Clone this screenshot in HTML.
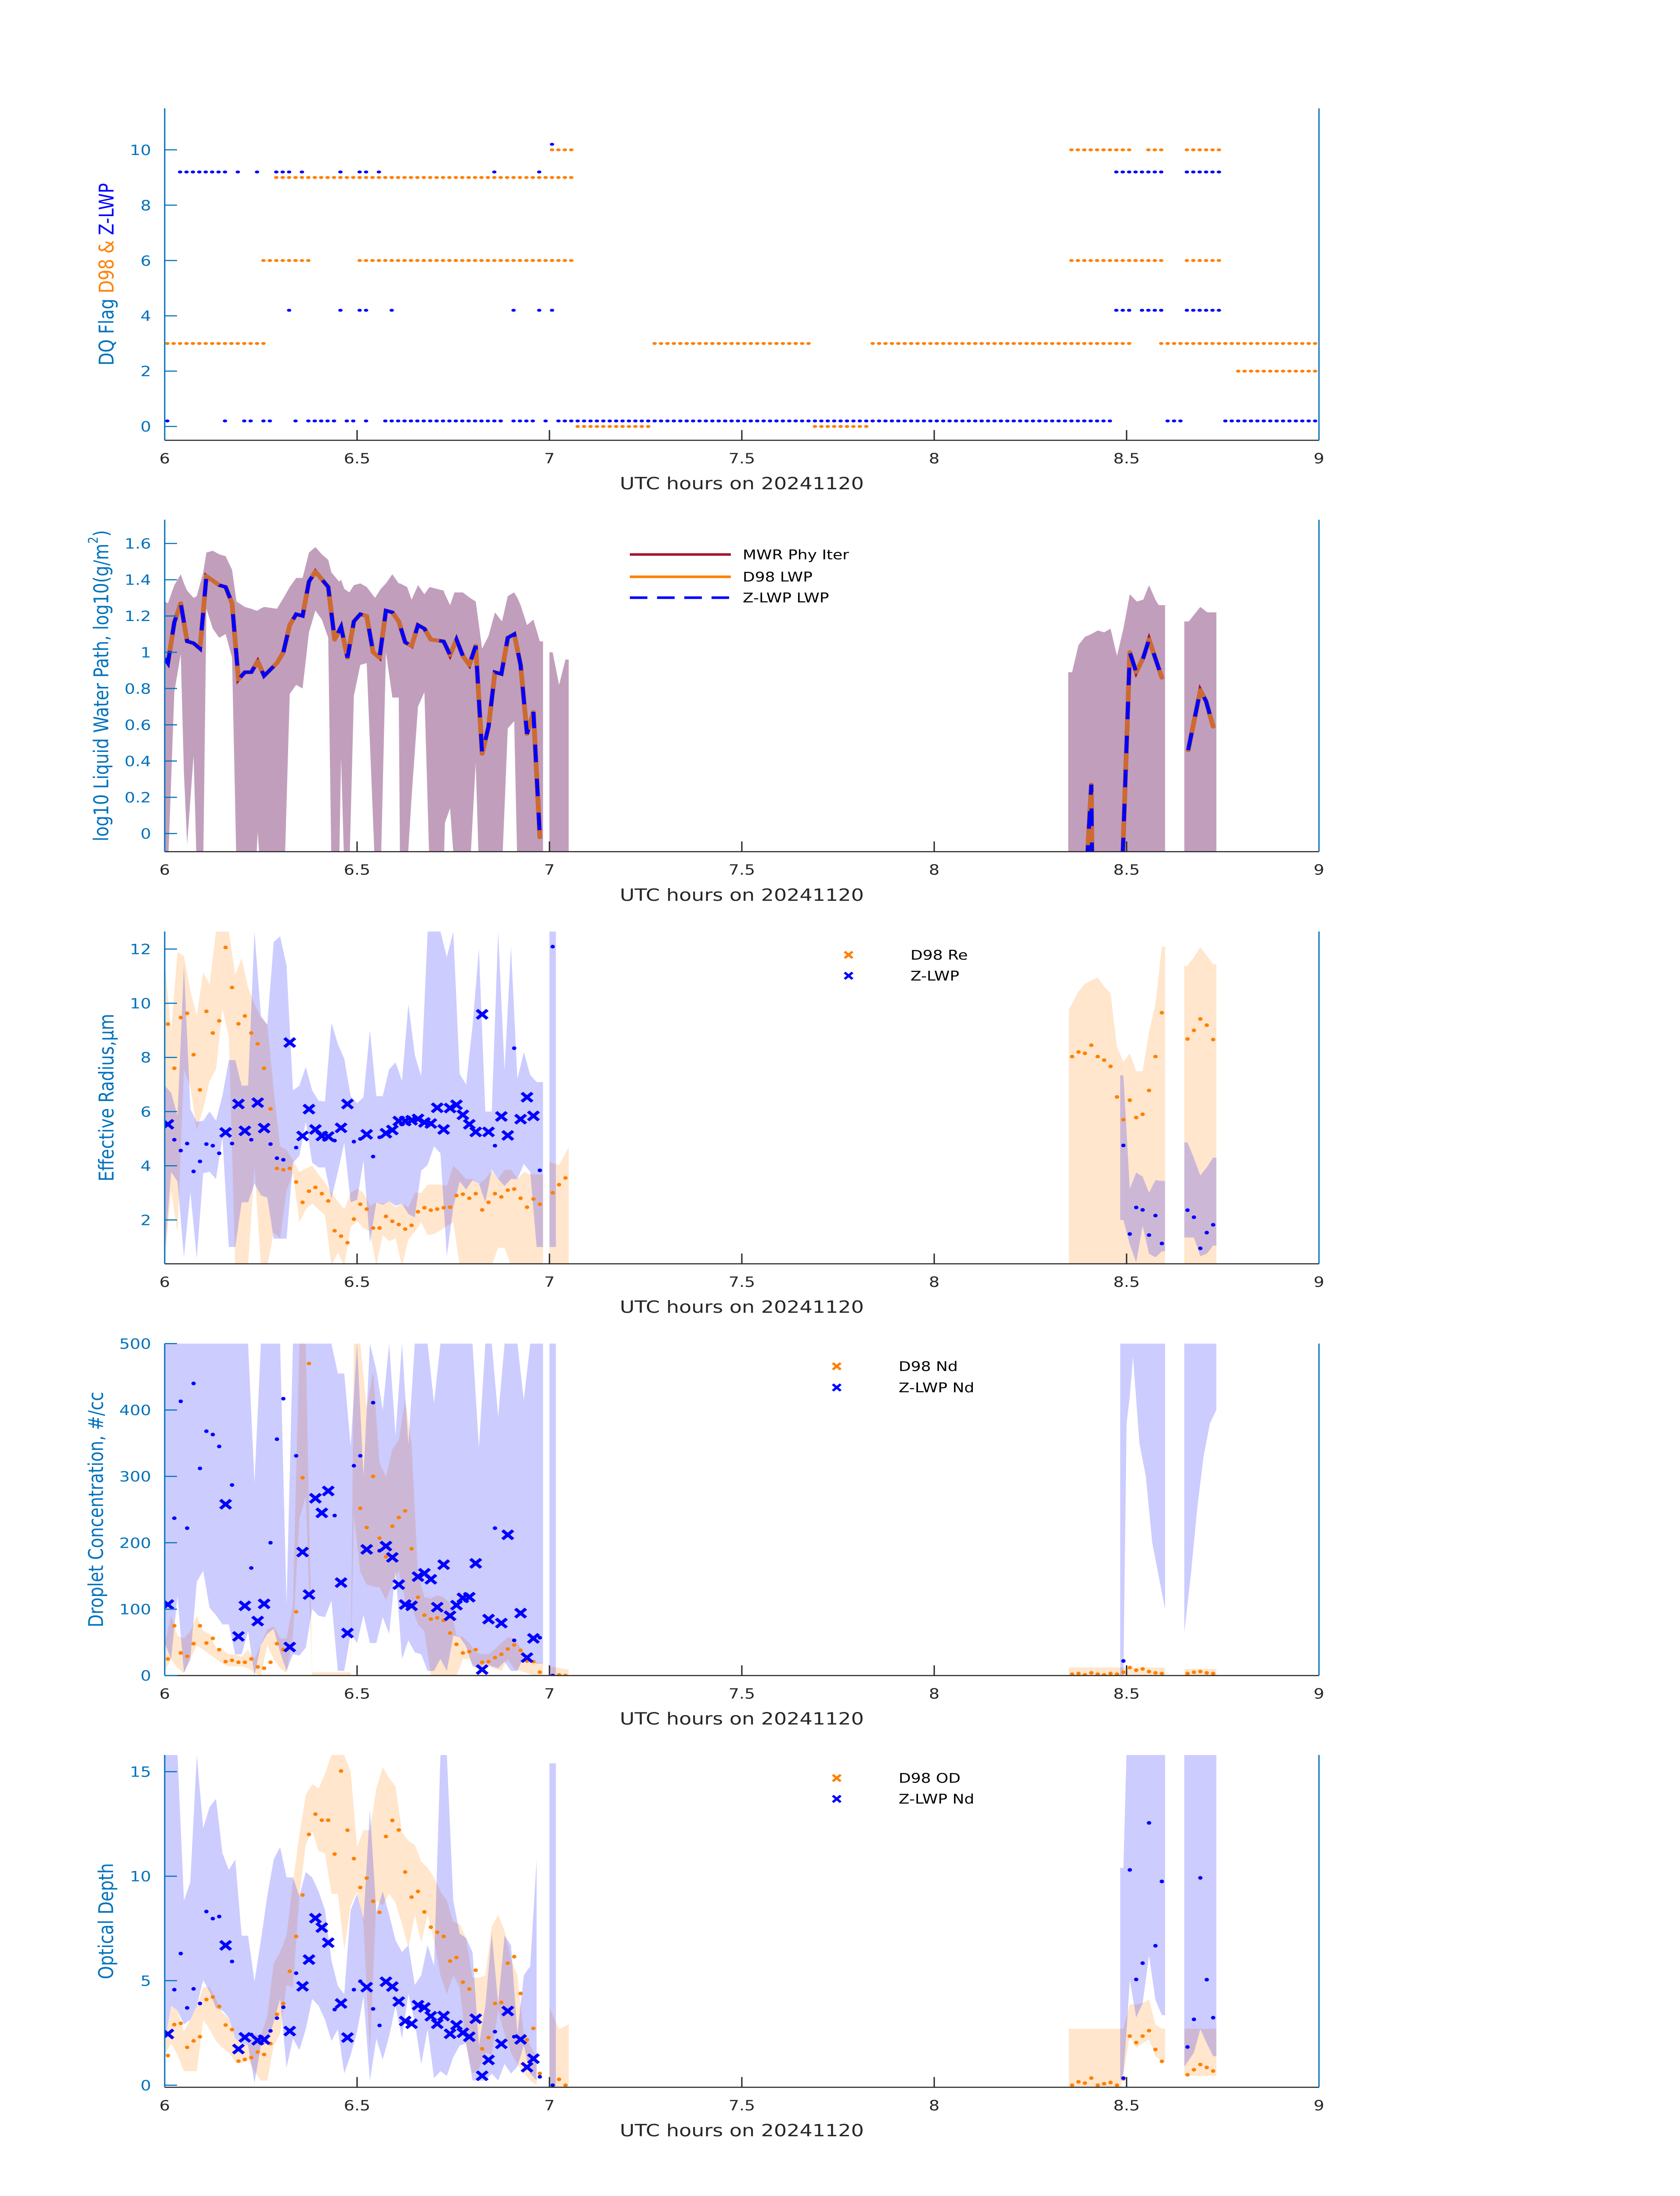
<!DOCTYPE html>
<html><head><meta charset="utf-8"><title>DQ flags and cloud retrievals 20241120</title>
<style>html,body{margin:0;padding:0;background:#fff;width:100%;height:100%;overflow:hidden}svg{display:block;position:fixed;left:0;top:0;width:100vw;height:100vh}text{font-family:"DejaVu Sans","Liberation Sans",sans-serif}</style>
</head><body>
<svg id="chart" viewBox="0 0 3825 6000" preserveAspectRatio="none" xmlns="http://www.w3.org/2000/svg"><rect width="3825" height="6000" fill="#fff"/></svg>
<script>
// ---- data (time in minutes after 06:00 UTC) ----
function seq(a,n){const r=[];for(let i=0;i<n;i++)r.push(a+i);return r;}
const xTickVals=[6,6.5,7,7.5,8,8.5,9];
const xTickLabels=['6','6.5','7','7.5','8','8.5','9'];
const p1Ticks=[0,2,4,6,8,10];
const p2Ticks=[0,0.2,0.4,0.6,0.8,1,1.2,1.4,1.6];
const p2TickLabels=['0','0.2','0.4','0.6','0.8','1','1.2','1.4','1.6'];
const p3Ticks=[2,4,6,8,10,12];
const p4Ticks=[0,100,200,300,400,500];
const p5Ticks=[0,5,10,15];
// panel 1 flag runs [startMin,endMin,flag]
const d98FlagRuns=[[0,15,3],[15,22,6],[17,63,9],[30,63,6],[60,63,10],[64,75,0],[76,100,3],[101,109,0],[110,150,3],[141,150,10],[141,155,6],[153,155,10],[155,180,3],[159,164,10],[159,164,6],[167,180,2]];
const zFlagRuns=[[0,0,0.2],[2,9,9.2],[11,11,9.2],[14,14,9.2],[17,19,9.2],[21,21,9.2],[27,27,9.2],[30,31,9.2],[33,33,9.2],[51,51,9.2],[58,58,9.2],[19,19,4.2],[27,27,4.2],[30,31,4.2],[35,35,4.2],[54,54,4.2],[58,58,4.2],[60,60,4.2],[60,60,10.2],[9,9,0.2],[12,13,0.2],[15,16,0.2],[20,20,0.2],[22,26,0.2],[28,29,0.2],[31,31,0.2],[34,52,0.2],[54,57,0.2],[59,59,0.2],[61,147,0.2],[148,155,9.2],[148,150,4.2],[152,155,4.2],[156,158,0.2],[159,164,9.2],[159,164,4.2],[165,180,0.2]];
// panel 2 LWP
const lwpT=[0,0.5,1.5,2.5,3.5,4.5,5.5,6.5,8.5,9.5,10.5,11.5,12.5,13.5,14.5,15.5,17.5,18.5,19.5,20.5,21.5,22.5,23.5,25.5,26.5,27.5,28.5,29.5,30.5,31.5,32.5,33.5,34.5,35.5,36.5,37.5,38.5,39.5,40.5,41.5,43.5,44.5,45.5,46.5,47.5,48.5,49.5,50.5,51.5,52.5,53.5,54.5,55.5,56.5,57.5,58.5,null,142.5,143.9,144.5,144.6,null,149.4,150.5,151.5,152.6,153.5,155.5,null,159.6,161.5,162.4,163.5];
const lwpV=[0.965,0.94,1.165,1.27,1.06,1.05,1.02,1.42,1.37,1.36,1.27,0.85,0.89,0.89,0.95,0.87,0.94,1.0,1.15,1.21,1.20,1.39,1.445,1.36,1.07,1.14,0.97,1.17,1.21,1.20,1.0,0.97,1.23,1.22,1.17,1.055,1.035,1.15,1.13,1.07,1.06,0.985,1.07,0.98,0.93,1.035,0.44,0.59,0.89,0.88,1.08,1.10,0.93,0.55,0.67,-0.02,null,-0.12,-0.12,0.27,-0.12,null,-0.12,1.0,0.89,0.97,1.07,0.86,null,0.46,0.79,0.73,0.59];
const lwpBandT=[0,0.5,1.5,2.5,3,3.5,4.5,5,6,6.5,7.5,8.5,9.5,10.5,11.2,12.5,13.5,14.2,14.5,14.9,15.5,17.5,18.7,19.5,20.5,21.5,22.5,23.5,24.5,25.5,26,27.2,27.5,28,28.8,29.5,30.5,31.5,32.8,33.7,34.5,35.5,36.5,36.7,37.8,38.5,39.5,40.5,41.3,43.5,43.7,44.5,45.2,46.5,47.6,48.5,49,49.5,50.5,51.5,52.6,53.5,54.5,55,55.5,56.5,57.5,58.5,59,null,60,60.5,61.5,62.5,63,null,140.9,141.5,142.5,143.5,144.5,145.5,146.5,147.5,148.5,149.5,150.5,151.6,152.6,153.5,154.5,155,156,null,159,159.7,161.5,162.6,164];
const lwpBandHi=[1.28,1.27,1.37,1.43,1.38,1.34,1.30,1.31,1.44,1.55,1.56,1.54,1.53,1.455,1.28,1.25,1.24,1.23,1.23,1.24,1.25,1.24,1.31,1.36,1.41,1.41,1.55,1.58,1.54,1.51,1.44,1.39,1.40,1.35,1.33,1.37,1.38,1.36,1.30,1.35,1.38,1.43,1.38,1.38,1.36,1.29,1.37,1.32,1.36,1.34,1.32,1.26,1.33,1.33,1.30,1.28,1.15,1.02,1.09,1.22,1.17,1.31,1.33,1.30,1.26,1.15,1.18,1.06,1.06,null,1.0,1.0,0.82,0.96,0.96,null,0.89,0.89,1.04,1.085,1.10,1.12,1.11,1.13,0.98,1.13,1.32,1.28,1.29,1.37,1.29,1.26,1.26,null,1.17,1.17,1.25,1.22,1.22];
const lwpBandLo=[-0.2,-0.2,0.78,0.99,0.33,-0.06,0.43,-0.2,-0.2,1.24,1.13,1.08,1.1,0.97,-0.2,-0.2,-0.2,-0.2,0.01,-0.2,-0.2,-0.2,-0.2,0.77,0.82,0.8,1.11,1.23,1.18,1.08,-0.2,-0.2,0.42,-0.2,-0.2,0.76,0.93,0.94,-0.2,-0.2,1.0,0.75,0.75,-0.2,-0.2,0.2,0.7,0.78,-0.2,-0.2,0.06,0.14,-0.2,-0.2,-0.2,0.39,-0.2,-0.2,-0.2,-0.2,-0.2,0.58,0.62,-0.2,-0.2,-0.2,-0.2,-0.2,-0.2,null,-0.2,-0.2,-0.2,-0.2,-0.2,null,-0.2,-0.2,-0.2,-0.2,-0.2,-0.2,-0.2,-0.2,-0.2,-0.2,-0.2,-0.2,-0.2,-0.2,-0.2,-0.2,-0.2,null,-0.2,-0.2,-0.2,-0.2,-0.2];
// shared Z-LWP sample times
const zXT=[0.5,9.5,11.5,12.5,14.5,15.5,19.5,21.5,22.5,23.5,24.5,25.5,27.5,28.5,31.5,34.5,35.5,36.5,37.5,38.5,39.5,40.5,41.5,42.5,43.5,44.5,45.5,46.5,47.5,48.5,49.5,50.5,52.5,53.5,55.5,56.5,57.5];
const zDotTL=[1.5,2.5,3.5,4.5,5.5,6.5,7.5,8.5,10.5,13.5,16.5,17.5,18.5,20.5,26.5,29.5,30.5,32.5,33.5,51.5,54.5,58.5,60.5];
const zDotTR=[149.5,150.5,151.5,152.5,153.5,154.5,155.5,159.5,160.5,161.5,162.5,163.5];
const d98T=[...seq(0.5,59),...seq(60.5,3),...seq(141.5,15),...seq(159.5,5)];
// panel 3 Re
const d98ReV=[9.23,7.6,9.47,9.63,8.1,6.8,9.7,8.9,9.35,12.06,10.58,9.24,9.53,8.9,8.5,7.6,6.1,3.9,3.85,3.9,3.4,2.65,3.06,3.2,2.97,2.7,1.6,1.4,1.16,2.03,2.58,2.4,1.7,1.7,2.13,1.95,1.83,1.66,1.8,2.3,2.45,2.36,2.4,2.45,2.47,2.9,2.95,2.8,2.97,2.37,2.65,2.97,2.85,3.1,3.14,2.8,2.47,2.77,2.58,3.0,3.3,3.55,8.03,8.2,8.15,8.45,8.03,7.9,7.67,6.54,5.7,6.42,5.78,5.9,6.78,8.03,9.65,8.68,9.0,9.42,9.19,8.66];
const zReXV=[5.53,5.23,6.28,5.29,6.33,5.39,8.55,5.1,6.09,5.34,5.1,5.08,5.4,6.28,5.16,5.2,5.32,5.65,5.65,5.68,5.73,5.6,5.56,6.14,5.34,6.13,6.25,5.88,5.53,5.25,9.59,5.25,5.82,5.12,5.72,6.53,5.84];
const zReDotV=[4.96,4.56,4.82,3.79,4.16,4.8,4.74,4.46,4.82,4.96,4.8,4.28,4.22,4.67,4.93,4.89,4.99,4.34,5.05,4.74,8.34,3.83,12.09,4.75,1.48,2.46,2.37,1.44,2.16,1.13,2.36,2.1,0.95,1.53,1.82];
const re3OrT=[...seq(0,60),null,60,61.5,63,null,141,142.5,143.5,144.5,145.5,146.5,147.5,148.5,149.5,150.5,151.5,152.5,153.5,154.5,155.5,156,null,159,159.5,160.5,161.5,162.5,163.5,164];
const re3OrHi=[11.53,8.94,11.9,11.74,10.45,9.54,11.14,10.7,12.65,12.65,12.65,11.05,11.66,10.58,9.97,9.46,9.24,6.78,4.72,4.59,4.2,3.77,3.9,4.0,3.68,3.38,3.0,2.69,2.39,3.0,3.16,3.0,2.52,2.65,2.6,2.69,2.46,2.6,2.46,3.0,3.0,3.3,3.31,3.31,3.25,4.0,3.77,3.51,3.51,3.32,3.51,3.81,3.51,3.85,3.85,3.51,3.77,3.68,3.68,3.68,null,4.14,4.03,4.68,null,9.76,10.43,10.72,10.84,10.95,10.62,10.36,8.38,7.84,8.15,7.49,7.49,8.94,9.97,12.09,12.09,null,11.38,11.38,11.7,12.07,11.76,11.44,11.44];
const re3OrLo=[0.32,3.08,1.53,7.56,6.91,5.32,6.1,7.13,7.56,9.8,8.77,0.32,0.32,0.32,3.94,0.32,0.32,1.53,1.31,3.08,3.72,1.91,2.39,2.6,2.39,2.17,0.32,0.79,0.32,1.74,1.96,1.7,1.57,0.32,1.44,1.22,1.31,0.32,1.27,1.57,1.91,1.44,1.48,1.61,1.78,1.91,0.32,0.32,0.32,0.32,0.32,0.32,0.97,0.97,0.32,0.32,0.32,0.32,0.32,0.32,null,0,0,0,null,0,0,0,0,0,0,0,0,0,0,0,0,0,0,0,0,null,0,0,0,0,0,0,0];
const re3BlT=[...seq(0,60),null,60,61,null,149,149.5,150.5,151.5,152.5,153.5,154.5,155.5,156,null,159,159.5,160.5,161.5,162.5,163.5,164];
const re3BlHi=[6.96,6.7,5.84,11.4,6.1,5.62,5.66,6.0,5.66,6.59,7.9,7.9,6.96,6.96,12.65,9.54,9.2,12.26,12.47,11.39,6.78,6.96,7.65,6.78,6.4,6.37,9.28,8.5,7.95,6.57,6.31,6.53,9.0,6.57,6.57,7.56,7.82,7.13,9.96,8.09,7.3,12.65,12.65,12.65,11.7,12.65,7.39,7.0,9.16,12.0,6.0,6.0,12.65,7.52,12.09,7.2,8.2,7.35,7.09,7.09,null,12.65,12.65,null,7.34,7.34,3.15,3.75,3.6,3.0,3.47,3.44,3.44,null,4.86,4.86,4.28,3.64,3.94,4.3,4.3];
const re3BlLo=[0.75,3.77,3.42,0.62,3.03,0.58,3.72,3.78,3.51,5.06,1.0,1.0,2.65,2.65,3.34,2.91,2.82,1.31,1.31,1.31,4.11,4.37,5.62,4.11,3.94,3.94,2.78,3.77,4.85,2.65,2.74,4.2,1.14,2.65,2.56,2.69,2.52,2.6,2.22,2.09,3.82,4.03,4.72,4.46,0.66,2.47,3.42,3.12,3.47,3.34,2.65,3.86,3.51,3.25,3.51,3.51,4.07,3.77,1.0,1.0,null,1.0,1.0,null,2.0,2.0,1.09,0.43,1.78,0.75,0.62,0.84,0.84,null,1.35,1.35,1.35,0.66,0.75,1.05,1.05];
// panel 4 Nd
const d98NdV=[25,75,34,29,48,75,49,56,39,21,23,20,20,25,13,11,20,48,39,null,96,298,470,null,null,null,null,null,null,null,252,223,300,207,179,225,238,248,191,118,91,85,87,83,64,47,34,36,39,20,21,27,32,40,46,38,22,21,5,null,1,0,2,3,1,4,2,1,3,2,5,12,8,10,6,4,3,3,5,6,4,3];
const zNdXV=[107,258,59,105,82,108,43,186,122,267,245,278,140,64,190,195,178,137,107,105,149,154,145,103,167,90,106,117,118,169,9,85,79,212,94,27,56];
const zNdDotT=[1.5,2.5,3.5,4.5,5.5,6.5,7.5,8.5,10.5,13.5,16.5,17.5,18.5,20.5,26.5,29.5,30.5,32.5,33.5,51.5,54.5,58.5,60.5,149.5];
const zNdDotV=[237,413,222,440,312,368,363,345,287,162,200,356,417,331,241,316,331,411,188,222,53,57,0,22];
const nd4BlT=[...seq(0,60),null,60,61,null,149,149.5,150,150.5,151,152,153,154,155,156,null,159,160,161,162,163,164];
const nd4BlHi=[500,500,500,500,500,500,500,500,500,500,500,500,500,500,290,500,500,500,500,107,500,500,500,500,500,500,500,455,455,345,500,300,500,460,400,500,362,500,348,500,500,500,410,500,500,500,500,500,500,343,500,500,390,500,500,500,415,500,500,500,null,500,500,null,500,500,500,500,500,500,500,500,500,500,null,500,500,500,500,500,500];
const nd4BlLo=[49,25,120,4,25,141,158,102,91,77,77,32,32,67,0,46,63,70,35,7,32,30,42,100,90,88,113,7,7,63,49,91,49,49,88,63,158,25,53,35,32,7,7,25,7,60,58,44,14,11,18,14,11,21,7,7,28,21,18,18,null,0,0,null,0,0,380,420,480,350,300,200,150,100,null,65,150,250,330,380,400];
const nd4OrT=[...seq(0,23),23,29,...seq(29.5,30),59,null,60,63,null,141,156,null,159,164];
const nd4OrHi=[49,90,60,56,67,90,67,63,42,39,32,32,28,39,25,46,70,74,56,56,107,500,500,5,5,500,500,402,459,320,299,341,355,415,348,153,118,116,121,118,109,60,58,49,35,32,32,40,49,58,56,42,28,21,19,19,null,14,9,null,12,12,null,10,10];
const nd4OrLo=[7,25,11,4,25,46,39,32,25,18,14,14,14,11,4,0,46,25,11,4,60,235,270,0,0,241,156,137,134,133,114,137,158,114,102,77,67,0,0,0,0,0,25,25,11,7,14,10,7,25,10,7,4,0,0,0,null,0,0,null,0,0,null,0,0];
// panel 5 optical depth
const d98OdV=[1.42,2.9,2.96,1.81,2.12,2.32,4.1,4.22,3.77,2.88,2.66,1.15,1.23,1.32,1.59,1.47,1.99,3.39,3.91,5.45,7.12,9.1,12.0,12.97,12.68,12.68,11.06,15.03,12.2,10.84,9.46,9.91,8.8,8.27,11.9,12.67,12.21,10.2,9.0,9.27,8.29,7.56,7.32,7.12,5.94,6.11,4.93,4.6,5.5,1.74,2.28,3.91,3.96,5.84,6.15,4.39,2.17,2.72,0.56,null,0.28,0,0,0.16,0.1,0.34,0,0.07,0.13,0,0.3,2.35,2.04,2.35,2.61,1.71,1.14,0.5,0.74,0.99,0.85,0.68];
const zOdXV=[2.45,6.69,1.73,2.29,2.15,2.18,2.59,4.73,6.01,7.99,7.54,6.82,3.91,2.28,4.69,4.95,4.72,4.0,3.07,2.94,3.83,3.72,3.3,2.94,3.31,2.46,2.87,2.51,2.32,3.18,0.45,1.21,1.98,3.55,2.19,0.86,1.27];
const zOdDotV=[4.57,6.3,3.7,4.61,3.91,8.31,7.97,8.07,5.92,2.42,2.6,3.21,3.73,5.36,3.62,4.57,4.97,3.65,2.86,2.56,2.32,0.4,0,0.34,10.3,5.06,5.84,12.55,6.67,9.75,1.83,3.15,9.92,5.05,3.23];
const od5BlT=[...seq(0,59),null,60,61,null,149,149.5,150,150.5,151.5,152.5,153.5,154.5,155.5,156,null,159,160.5,161.5,162.5,163.5,164];
const od5BlHi=[15.8,15.8,15.8,8.83,9.72,15.8,12.3,13.3,13.7,11.1,10.3,10.8,7.15,7.15,4.97,6.93,9.05,10.8,11.4,9.94,9.94,9.05,10.2,9.94,9.27,8.38,5.98,4.75,4.36,8.38,9.16,7.93,13.2,8.27,9.27,8.16,6.93,6.37,6.7,4.8,5.25,6.7,5.7,15.8,15.8,8.83,7.26,7.04,6.37,1.9,3.8,7.26,3.91,7.15,6.7,2.46,5.25,5.7,10.8,null,15.4,15.4,null,10.4,10.4,16,16,16,16,16,16,16,16,null,16,16,16,16,16,16];
const od5BlLo=[2.01,3.8,3.58,2.91,3.13,3.8,5.03,4.47,3.69,3.58,3.24,2.23,2.01,1.9,0.11,1.9,2.01,3.02,4.13,0.84,2.23,1.68,2.68,4.13,3.8,3.13,2.12,2.68,0.56,1.45,2.57,4.25,0.22,2.23,1.23,2.35,3.8,2.23,4.36,3.02,1.01,2.68,0.34,0.67,0.45,1.34,1.9,2.01,0.22,0.22,0.22,0.56,0.22,1.01,0.56,0.89,1.9,0.56,0.22,null,-0.2,-0.2,null,0.22,0.56,2.6,5.03,3.24,3.91,6.2,4.08,3.35,3.35,null,0.89,1.56,2.68,2.01,1.39,1.39];
const od5OrT=[...seq(0,59),null,60,61.5,63,null,141,148.5,149,149.5,150.5,151.5,152.5,153.5,154.5,155.5,156,null,159,164];
const od5OrHi=[2.01,3.8,3.58,2.57,3.13,3.8,4.69,4.69,4.13,3.46,3.24,2.23,2.01,1.9,2.46,2.35,3.35,5.81,6.37,7.15,9.72,11.96,13.9,14.4,14.2,14.9,15.8,15.8,15.8,15.0,11.4,12.2,12.2,14.2,15.2,14.7,14.3,12.1,11.7,11.5,10.7,10.4,9.94,9.27,8.83,7.82,7.71,7.04,5.14,5.14,5.25,7.6,8.16,7.37,6.03,5.25,2.46,1.9,1.34,null,3.69,2.68,2.91,null,2.7,2.7,2.7,2.7,3.87,3.87,3.93,4.1,2.9,2.7,2.7,null,2.7,2.7];
const od5OrLo=[1.45,2.01,1.45,0.67,0.67,0.67,3.13,2.68,2.12,1.79,1.56,1.12,1.06,1.23,0.67,0.22,0.22,1.9,2.46,4.8,4.69,9.05,11.5,12.2,11.2,11.1,9.16,9.16,6.48,8.6,9.27,7.71,1.56,8.83,8.6,9.16,8.72,7.71,6.59,8.16,6.82,8.16,6.93,5.25,4.36,5.25,4.69,1.9,0.56,0.78,1.56,1.45,3.58,2.46,1.56,1.01,0.56,0.22,0,null,-0.2,-0.2,-0.2,null,-0.2,-0.2,-0.2,0.56,2.35,1.79,2.01,2.18,1.39,1.12,1.12,null,0.45,0.45];

// ---- rendering ----
const NS='http://www.w3.org/2000/svg';
const svg=document.getElementById('chart');
function mk(tag,attrs,parent){const e=document.createElementNS(NS,tag);for(const k in attrs)e.setAttribute(k,attrs[k]);(parent||svg).appendChild(e);return e;}
const X0=375,X1=3003;
const PANELS=[{top:296,bot:1203,y0:-0.5,y1:11.5},{top:1420,bot:2327,y0:-0.1,y1:1.731},{top:2545,bot:3453,y0:0.38,y1:12.65},{top:3671,bot:4578,y0:0,y1:500},{top:4795,bot:5703,y0:-0.1,y1:15.8}];
function xm(m){return X0+m/180*(X1-X0);}
function xh(h){return X0+(h-6)/3*(X1-X0);}
function yv(p,v){return p.bot-(v-p.y0)/(p.y1-p.y0)*(p.bot-p.top);}
const AXBLUE='#0072bd',DARK='#262626';

function axes(idx,ticks,labels,ylabelParts,ylabelX,names){
  const p=PANELS[idx];
  const g=mk('g',{});
  
  
  const cp=mk('clipPath',{id:'clip'+idx},g);
  mk('rect',{x:X0,y:p.top,width:X1-X0,height:p.bot-p.top},cp);
  const data=mk('g',{'clip-path':'url(#clip'+idx+')'});
  
  
  const frame=mk('g',{});
  
  
  const xl=mk('line',{x1:X0,y1:p.bot,x2:X1,y2:p.bot,stroke:DARK,'stroke-width':3},frame);
  
  
  xTickVals.forEach((h,i)=>{
    const t=mk('line',{x1:xh(h),y1:p.bot,x2:xh(h),y2:p.bot-28,stroke:DARK,'stroke-width':3},frame);
    
    
    const tl=mk('text',{x:xh(h),y:p.bot+63,'text-anchor':'middle','font-size':38,fill:DARK},frame);
    
    
    tl.textContent=xTickLabels[i];
  });
  const yl=mk('line',{x1:X0,y1:p.top,x2:X0,y2:p.bot,stroke:AXBLUE,'stroke-width':3},frame);
  
  
  const yr=mk('line',{x1:X1,y1:p.top,x2:X1,y2:p.bot,stroke:AXBLUE,'stroke-width':3},frame);
  
  
  ticks.forEach((v,i)=>{
    const y=yv(p,v);
    const t=mk('line',{x1:X0,y1:y,x2:X0+28,y2:y,stroke:AXBLUE,'stroke-width':3},frame);
    
    
    const tl=mk('text',{x:344,y:y+14,'text-anchor':'end','font-size':38,fill:AXBLUE},frame);
    
    
    tl.textContent=labels?labels[i]:String(v);
  });
  const xt=mk('text',{x:(X0+X1)/2,y:p.bot+134,'text-anchor':'middle','font-size':46,fill:DARK},frame);
  
  
  xt.textContent='UTC hours on 20241120';
  const cy=(p.top+p.bot)/2;
  const yt=mk('text',{x:ylabelX,y:cy,'text-anchor':'middle','dominant-baseline':'central','font-size':46,fill:AXBLUE,transform:'rotate(-90 '+ylabelX+' '+cy+')'},frame);
  
  
  ylabelParts.forEach(part=>{
    const ts=mk('tspan',{fill:part[1]},yt);
    if(part[2])ts.setAttribute('baseline-shift',part[2]);
    if(part[3])ts.setAttribute('font-size',part[3]);
    ts.textContent=part[0];
  });
  return data;
}
function bands(g,p,T,H,L,fill,name){
  let pts=[];
  const flush=()=>{
    if(pts.length>1){
      const up=pts.map(q=>xm(q[0])+','+yv(p,q[1]));
      const dn=pts.slice().reverse().map(q=>xm(q[0])+','+yv(p,q[2]));
      const poly=mk('polygon',{points:up.concat(dn).join(' '),fill:fill,stroke:'none'},g);
      
      
    }
    pts=[];
  };
  for(let i=0;i<T.length;i++){if(T[i]===null){flush();continue;}pts.push([T[i],H[i],L[i]]);}
  flush();
}
function line(g,p,T,V,attrs,name){
  let d='',pen=false;
  for(let i=0;i<T.length;i++){
    if(T[i]===null||V[i]===null){pen=false;continue;}
    d+=(pen?'L':'M')+xm(T[i]).toFixed(1)+','+yv(p,V[i]).toFixed(1);pen=true;
  }
  const a=Object.assign({d:d,fill:'none'},attrs);
  const e=mk('path',a,g);
  
  
}
function dots(g,p,T,V,fill,r,name){
  for(let i=0;i<T.length;i++){
    if(V[i]===null||V[i]===undefined)continue;
    const c=mk('circle',{cx:xm(T[i]),cy:yv(p,V[i]),r:r,fill:fill},g);
    
    
  }
}
function xmarks(g,p,T,V,name){
  for(let i=0;i<T.length;i++){
    const x=xm(T[i]),y=yv(p,V[i]),s=12;
    const e=mk('path',{d:'M'+(x-s)+','+(y-s)+'L'+(x+s)+','+(y+s)+'M'+(x-s)+','+(y+s)+'L'+(x+s)+','+(y-s),stroke:'#0000ff','stroke-width':8,fill:'none'},g);
    
    
  }
}
function legendMarks(idx,labels,x,y1,y2){
  const g=mk('g',{});
  
  
  const s=9;
  [[y1,'#ff8000',labels[0]],[y2,'#0000ff',labels[1]]].forEach(r=>{
    const m=mk('path',{d:'M'+(x-s)+','+(r[0]-s)+'L'+(x+s)+','+(r[0]+s)+'M'+(x-s)+','+(r[0]+s)+'L'+(x+s)+','+(r[0]-s),stroke:r[1],'stroke-width':6,fill:'none'},g);
    
    
    const t=mk('text',{x:x+141,y:r[0]+13,'font-size':36,fill:'#000'},g);
    
    
    t.textContent=r[2];
  });
}
const OR_BAND='rgba(255,128,0,0.2)',BL_BAND='rgba(0,0,255,0.2)';

// Panel 1
{
  const p=PANELS[0];
  const g=axes(0,p1Ticks,null,[['DQ Flag  ',AXBLUE],['D98 & ','#ff8000'],[' Z-LWP','#0000ff']],242,'dq-flag');
  d98FlagRuns.forEach(r=>{for(let m=r[0];m<=r[1];m++){
    const c=mk('ellipse',{cx:xm(m+0.4),cy:yv(p,r[2]),rx:5,ry:4,fill:'#ff8000'},g);
    
    
  }});
  zFlagRuns.forEach(r=>{for(let m=r[0];m<=r[1];m++){
    const c=mk('ellipse',{cx:xm(m+0.4),cy:yv(p,r[2]),rx:5,ry:4,fill:'#0000ff'},g);
    
    
  }});
}
// Panel 2
{
  const p=PANELS[1];
  const g=axes(1,p2Ticks,p2TickLabels,[['log10 Liquid Water Path, log10(g/m',AXBLUE],['2',AXBLUE,'super','30'],[')',AXBLUE]],230,'lwp');
  bands(g,p,lwpBandT,lwpBandHi,lwpBandLo,'#c19fbc','mwr-lwp-uncertainty-band');
  line(g,p,lwpT,lwpV,{stroke:'#a2142f','stroke-width':10},'mwr-lwp-line');
  line(g,p,lwpT,lwpV,{stroke:'#cc6a33','stroke-width':11,'stroke-linejoin':'round','stroke-linecap':'round'},'d98-lwp-line');
  line(g,p,lwpT,lwpV,{stroke:'#0000ff','stroke-width':9,'stroke-dasharray':'48 45'},'z-lwp-line');
  const lg=mk('g',{});
  
  
  [[1515,'#a2142f','MWR Phy Iter',null],[1576,'#ff8000','D98 LWP',null],[1633,'#0000ff','Z-LWP LWP','40 22']].forEach(r=>{
    const l=mk('line',{x1:1434,y1:r[0],x2:1664,y2:r[0],stroke:r[1],'stroke-width':7},lg);
    if(r[3])l.setAttribute('stroke-dasharray',r[3]);
    
    
    const t=mk('text',{x:1691,y:r[0]+13,'font-size':36,fill:'#000'},lg);
    
    
    t.textContent=r[2];
  });
}
// Panel 3
{
  const p=PANELS[2];
  const g=axes(2,p3Ticks,null,[['Effective Radius,\u03bcm',AXBLUE]],242,'effective-radius');
  bands(g,p,re3OrT,re3OrHi,re3OrLo,OR_BAND,'d98-re-band');
  bands(g,p,re3BlT,re3BlHi,re3BlLo,BL_BAND,'z-lwp-re-band');
  dots(g,p,d98T,d98ReV,'#ff8000',5,'d98-re-point');
  dots(g,p,zDotTL.concat(zDotTR),zReDotV,'#0000ff',5,'z-lwp-re-point');
  xmarks(g,p,zXT,zReXV,'z-lwp-re-marker');
  legendMarks(2,['D98 Re','Z-LWP'],1932,2609,2666);
}
// Panel 4
{
  const p=PANELS[3];
  const g=axes(3,p4Ticks,null,[['Droplet Concentration, #/cc',AXBLUE]],218,'droplet-concentration');
  bands(g,p,nd4OrT,nd4OrHi,nd4OrLo,OR_BAND,'d98-nd-band');
  bands(g,p,nd4BlT,nd4BlHi,nd4BlLo,BL_BAND,'z-lwp-nd-band');
  dots(g,p,d98T,d98NdV,'#ff8000',5,'d98-nd-point');
  dots(g,p,zNdDotT,zNdDotV,'#0000ff',5,'z-lwp-nd-point');
  xmarks(g,p,zXT,zNdXV,'z-lwp-nd-marker');
  legendMarks(3,['D98 Nd','Z-LWP Nd'],1905,3733,3791);
}
// Panel 5
{
  const p=PANELS[4];
  const g=axes(4,p5Ticks,null,[['Optical Depth',AXBLUE]],241,'optical-depth');
  bands(g,p,od5OrT,od5OrHi,od5OrLo,OR_BAND,'d98-od-band');
  bands(g,p,od5BlT,od5BlHi,od5BlLo,BL_BAND,'z-lwp-od-band');
  dots(g,p,d98T,d98OdV,'#ff8000',5,'d98-od-point');
  dots(g,p,zDotTL.concat(zDotTR),zOdDotV,'#0000ff',5,'z-lwp-od-point');
  xmarks(g,p,zXT,zOdXV,'z-lwp-od-marker');
  legendMarks(4,['D98 OD','Z-LWP Nd'],1905,4858,4915);
}
</script>
</body></html>
